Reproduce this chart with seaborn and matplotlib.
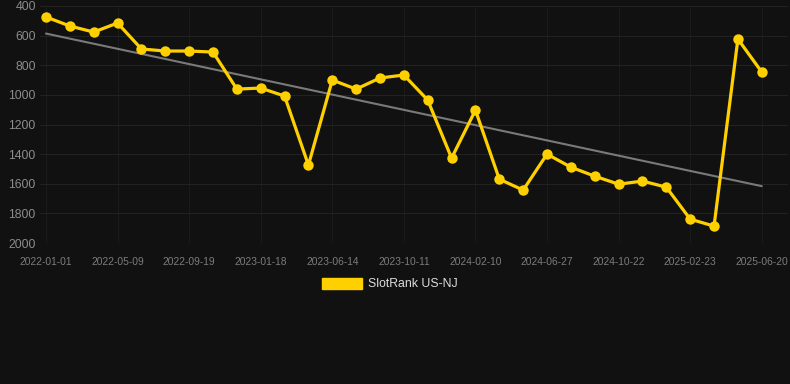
import matplotlib
matplotlib.use("Agg")
import matplotlib.pyplot as plt
from matplotlib.patches import Patch
import numpy as np
import pandas as pd
import seaborn as sns

# ---- data ----
tick_labels = ["2022-01-01", "2022-05-09", "2022-09-19", "2023-01-18", "2023-06-14",
               "2023-10-11", "2024-02-10", "2024-06-27", "2024-10-22", "2025-02-23",
               "2025-06-20"]
ranks = [474, 535, 576, 515, 690, 704, 704, 711, 961, 954, 1008, 1474, 900, 961,
         886, 866, 1035, 1427, 1103, 1569, 1643, 1400, 1488, 1549, 1603, 1582,
         1623, 1839, 1886, 623, 846]
series_name = "SlotRank US-NJ"

df = pd.DataFrame({"idx": np.arange(len(ranks)), "rank": ranks})

sns.set_theme(style="dark")
plt.rcParams["font.family"] = ["Liberation Sans", "DejaVu Sans"]

BG = "#111111"
YELLOW = "#FFD000"

fig = plt.figure(figsize=(7.9, 3.84), dpi=100, facecolor=BG)
ax = fig.add_axes([40 / 790, (384 - 243) / 384, 748 / 790, 237 / 384])
ax.set_facecolor(BG)

# trend line (linear regression)
sns.regplot(data=df, x="idx", y="rank", scatter=False, ci=None, ax=ax,
            line_kws=dict(color="#7a7a7a", lw=1.5, zorder=2))

sns.lineplot(data=df, x="idx", y="rank", ax=ax, color=YELLOW, lw=2.3,
             marker="o", markersize=7.5, markeredgewidth=0, zorder=3)

ax.set_xlim(-0.25, 31.1)
ax.set_ylim(2000, 400)
ax.set_yticks(np.arange(400, 2001, 200))
ax.set_xticks(np.arange(0, len(ranks), 3))
ax.set_xticklabels(tick_labels)
ax.set_xlabel("")
ax.set_ylabel("")

ax.grid(False)
ax.yaxis.grid(True, color="#222222", lw=0.8)
ax.xaxis.grid(True, color="#1b1b1b", lw=0.8)
for s in ax.spines.values():
    s.set_visible(False)
ax.tick_params(axis="y", colors="#8c8c8c", labelsize=8.8, length=0, pad=3)
ax.tick_params(axis="x", colors="#7c7c7c", labelsize=7.4, length=0, pad=10)

fig.legend(handles=[Patch(facecolor=YELLOW, edgecolor=YELLOW, label=series_name)],
           loc="center", bbox_to_anchor=(390 / 790, 1 - 284 / 384),
           frameon=False, fontsize=8.8, labelcolor="#dddddd",
           handlelength=3.3, handleheight=1.0, handletextpad=0.5)

fig.savefig("out.png", dpi=100, facecolor=BG)
